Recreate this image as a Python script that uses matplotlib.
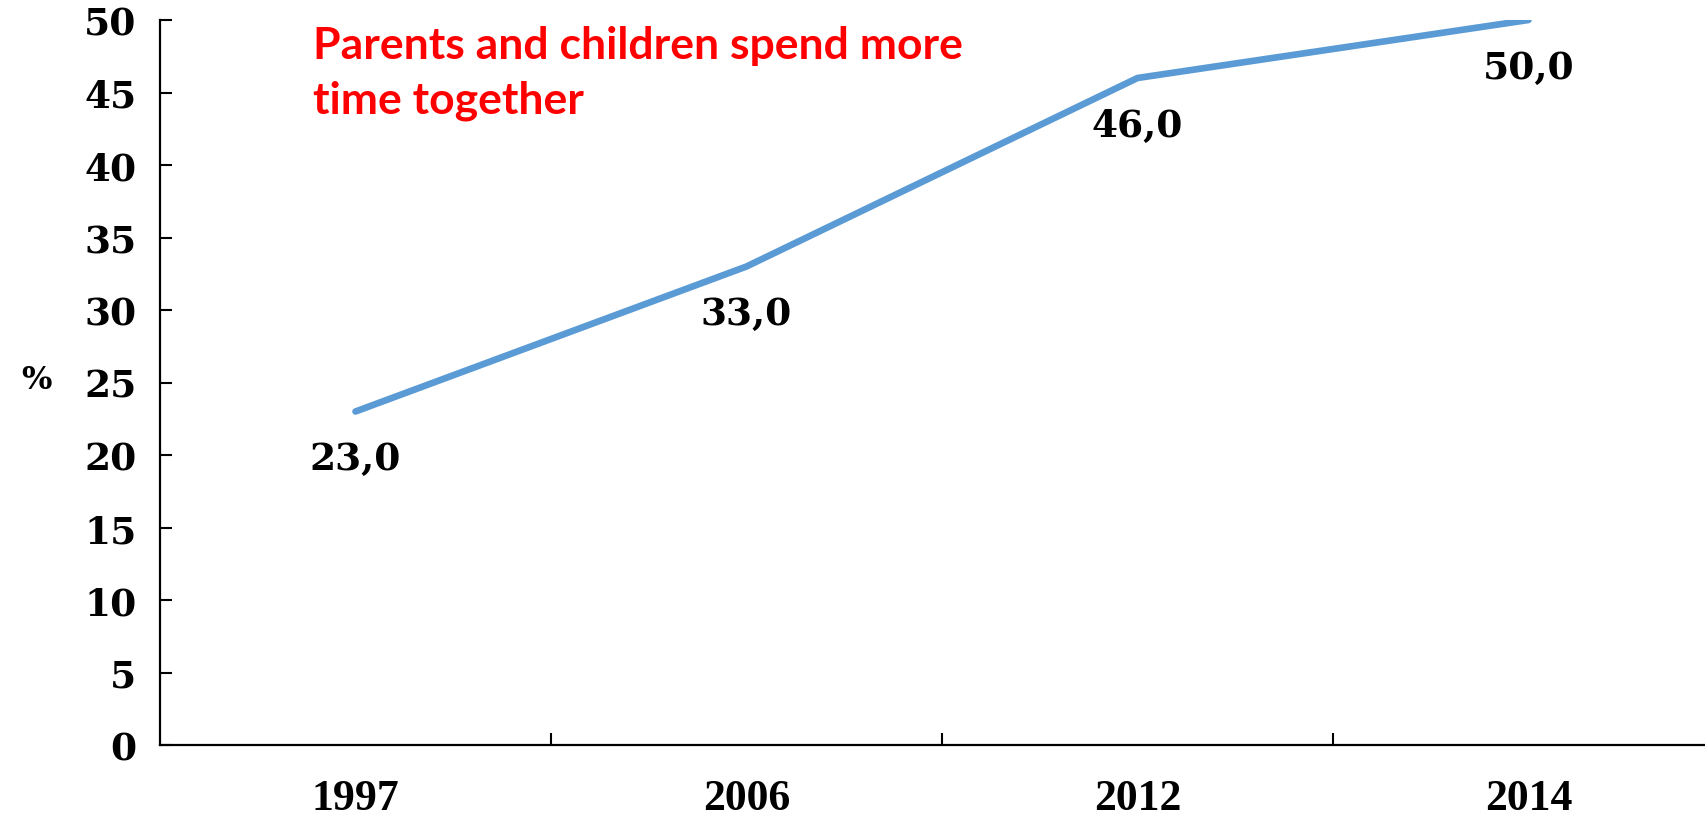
import matplotlib
matplotlib.use("Agg")
import matplotlib.pyplot as plt
from matplotlib.ticker import FixedLocator

years = ["1997", "2006", "2012", "2014"]
values = [23.0, 33.0, 46.0, 50.0]
y_ticks = [0, 5, 10, 15, 20, 25, 30, 35, 40, 45, 50]
title_text = "Parents and children spend more\ntime together"
y_label = "%"

W, H = 1706, 820
fig = plt.figure(figsize=(W / 100, H / 100), dpi=100)
ax = fig.add_axes([160 / W, (H - 746) / H, 1564 / W, 725 / H])

x = list(range(len(years)))
ax.plot(x, values, color="#5B9BD5", linewidth=4.8, solid_capstyle="round")

ax.set_xlim(-0.5, len(years) - 0.5)
ax.set_ylim(0, 50)

ax.set_yticks(y_ticks)
ax.set_yticklabels([str(t) for t in y_ticks], fontfamily="DejaVu Serif",
                   fontweight="bold", fontsize=27)
ax.tick_params(axis="y", direction="in", length=8.6, width=1.5, pad=17, colors="black")

ax.set_xticks(x)
ax.set_xticklabels(years, fontfamily="Liberation Serif", fontweight="bold", fontsize=31.5)
ax.tick_params(axis="x", which="major", length=0, pad=24)
ax.xaxis.set_minor_locator(FixedLocator([0.5, 1.5, 2.5, 3.5]))
ax.tick_params(axis="x", which="minor", direction="in", length=9, width=1.5)

for s in ["top", "right"]:
    ax.spines[s].set_visible(False)
for s in ["left", "bottom"]:
    ax.spines[s].set_linewidth(1.6)
    ax.spines[s].set_color("black")

for xi, v in zip(x, values):
    ax.annotate(f"{v:.1f}".replace(".", ","), xy=(xi, v), xytext=(0, -34),
                textcoords="offset points", ha="center", va="center",
                fontfamily="DejaVu Serif", fontweight="bold", fontsize=27)

fig.text(36 / W, 1 - 381 / H, y_label, ha="center", va="center",
         fontfamily="DejaVu Serif", fontweight="bold", fontsize=23)

fig.text(313 / W, 1 - 26 / H, title_text, ha="left", va="top", color="#FF0000",
         fontfamily="Lato", fontweight="bold", fontsize=32, linespacing=1.45)

fig.savefig("out.png", dpi=100)
